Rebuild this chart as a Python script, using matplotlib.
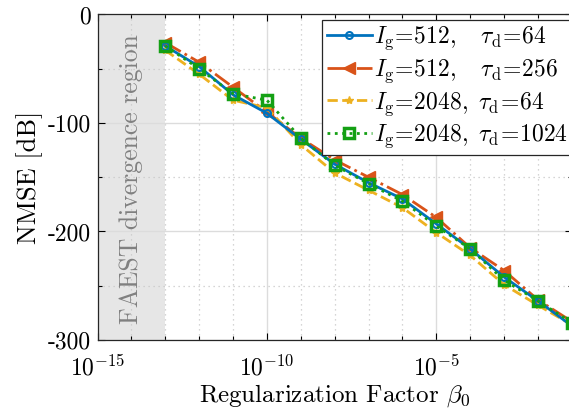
import matplotlib
matplotlib.use("Agg")
import matplotlib.pyplot as plt
from matplotlib.ticker import FixedLocator, FixedFormatter, NullFormatter
import numpy as np

plt.rcParams['font.family'] = 'serif'
plt.rcParams['font.serif'] = ['cmr10']
plt.rcParams['mathtext.fontset'] = 'cm'
plt.rcParams['axes.unicode_minus'] = False

beta = [1e-13, 1e-12, 1e-11, 1e-10, 1e-9, 1e-8, 1e-7, 1e-6, 1e-5, 1e-4, 1e-3, 1e-2, 1e-1]
nmse_512_64 = [-29, -48, -74, -91, -115, -138, -155, -170, -193, -216, -242, -264, -287]
nmse_512_256 = [-26, -44, -67, -90, -114, -134, -150, -166, -187, -215, -236, -263, -283]
nmse_2048_64 = [-33, -55, -79, -86, -120, -146, -162, -178, -201, -222, -249, -268, -286]
nmse_2048_1024 = [-29, -50, -73, -79, -114, -139, -156, -172, -195, -216, -245, -264, -284]

labels = [r"$I_{\rm g}\!=\!512,\ \ \ \tau_{\rm d}\!=\!64$",
          r"$I_{\rm g}\!=\!512,\ \ \ \tau_{\rm d}\!=\!256$",
          r"$I_{\rm g}\!=\!2048,\ \tau_{\rm d}\!=\!64$",
          r"$I_{\rm g}\!=\!2048,\ \tau_{\rm d}\!=\!1024$"]

fig = plt.figure(figsize=(5.69, 4.08), dpi=100)
ax = fig.add_axes([0.1714, 0.1667, 0.8336, 0.7978])

ax.axvspan(1e-15, 1e-13, color='#e6e6e6', zorder=0, lw=0)
ax.text(1e-14, -152, 'FAEST divergence region', rotation=90, ha='center', va='center',
        color='#808080', fontsize=18.5)

ax.plot(beta, nmse_512_64, color='#0072BD', ls='-', lw=2, marker='o', ms=5,
        mfc='none', mew=1.5, label=labels[0], zorder=3)
ax.plot(beta, nmse_512_256, color='#D95319', ls='-.', lw=2, marker='<', ms=8,
        label=labels[1], zorder=2)
ax.plot(beta, nmse_2048_64, color='#EDB120', ls='--', lw=2, marker='*', ms=6,
        label=labels[2], zorder=2)
ax.plot(beta, nmse_2048_1024, color='#14A014', ls=':', lw=2, marker='s', ms=7,
        mfc='none', mew=2.5, label=labels[3], zorder=4)

ax.set_xscale('log')
ax.set_xlim(1e-15, 1e-1)
ax.set_ylim(-300, 0)

ax.xaxis.set_major_locator(FixedLocator([1e-15, 1e-10, 1e-5]))
ax.xaxis.set_major_formatter(FixedFormatter([r'$10^{-15}$', r'$10^{-10}$', r'$10^{-5}$']))
ax.xaxis.set_minor_locator(FixedLocator([10.0**k for k in range(-15, 0) if k not in (-15, -10, -5)]))
ax.xaxis.set_minor_formatter(NullFormatter())
ax.yaxis.set_major_locator(FixedLocator([-300, -200, -100, 0]))
ax.yaxis.set_major_formatter(FixedFormatter(['-300', '-200', '-100', '0']))
ax.yaxis.set_minor_locator(FixedLocator([-250, -150, -50]))

ax.grid(True, which='major', color='#dcdcdc', lw=1, ls='-')
ax.grid(True, which='minor', color='#c8c8c8', lw=0.9, ls=(0, (1, 3)))
ax.set_axisbelow(True)

ax.tick_params(which='both', direction='in', top=True, right=True, labelsize=17, width=0.8)
ax.tick_params(which='major', length=5)
ax.tick_params(which='minor', length=3)
ax.tick_params(axis='x', pad=11)
ax.tick_params(axis='y', pad=5)
for s in ax.spines.values():
    s.set_linewidth(0.9)
    s.set_color('#262626')

ax.set_xlabel(r'Regularization Factor $\beta_0$', fontsize=18, labelpad=1)
ax.set_ylabel('NMSE [dB]', fontsize=19, labelpad=3)

leg = ax.legend(loc='upper left', bbox_to_anchor=(322/569, 1-20/408),
                bbox_transform=fig.transFigure, fontsize=17, frameon=True,
                fancybox=False, edgecolor='#262626', framealpha=1,
                borderpad=0.2, labelspacing=0.22, handlelength=1.9,
                handletextpad=0.1, borderaxespad=0)
leg.get_frame().set_linewidth(0.9)

fig.savefig('out.png', dpi=100)
